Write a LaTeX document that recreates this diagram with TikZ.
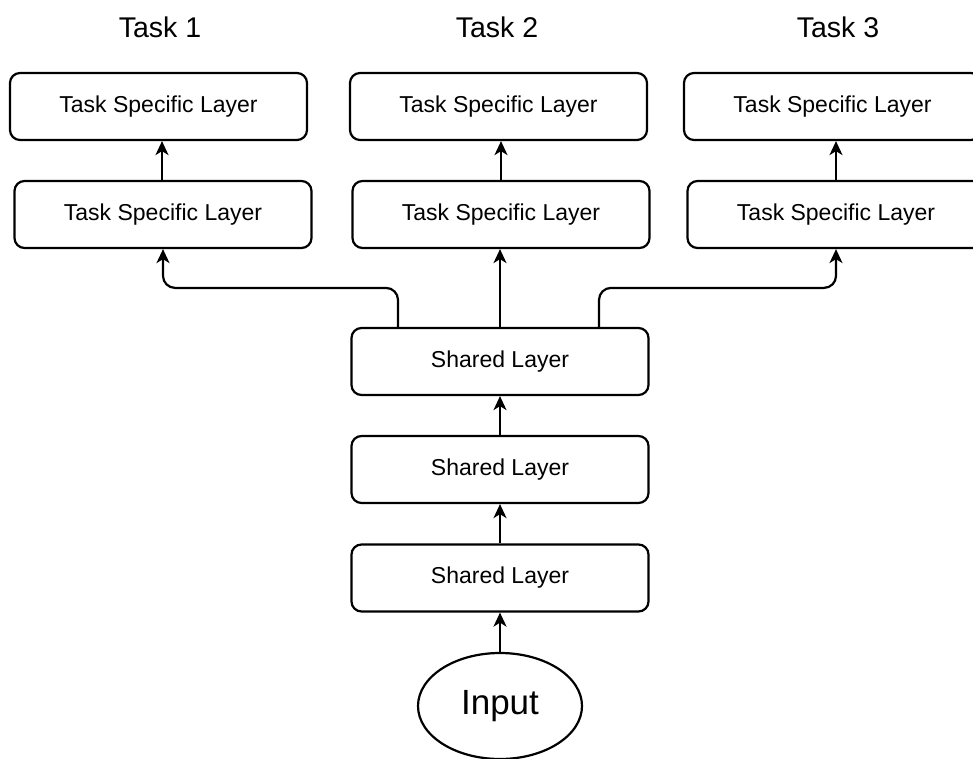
\documentclass[tikz,border=0pt]{standalone}
\usepackage{fontspec}
\setmainfont{Liberation Sans}
\usetikzlibrary{arrows.meta,shapes.geometric}
\begin{document}
\begin{tikzpicture}[x=1pt,y=-1pt,
  box/.style={draw, line width=2.2pt, rounded corners=10pt, minimum width=297pt, minimum height=67pt, inner sep=0pt, font=\fontsize{23}{27}\selectfont},
  tasklabel/.style={font=\fontsize{28.5}{33}\selectfont, inner sep=0pt},
  arr/.style={-{Stealth[length=14pt,width=13pt,inset=4pt]}, line width=2.2pt},
  inputnode/.style={draw, ellipse, line width=2.2pt, minimum width=164pt, minimum height=106pt, inner sep=0pt, font=\fontsize{35}{40}\selectfont}]
\useasboundingbox (0,0) rectangle (973,759);
\clip (0,0) rectangle (973,759);

\node[tasklabel] (l1) at (160,27) {Task 1};
\node[tasklabel] (l2) at (497,27) {Task 2};
\node[tasklabel] (l3) at (838,27) {Task 3};

\node[box] (t1a) at (158.5,106.5) {Task Specific Layer};
\node[box] (t1b) at (163,214.5) {Task Specific Layer};
\node[box] (t2a) at (498.5,106.5) {Task Specific Layer};
\node[box] (t2b) at (501,214.5) {Task Specific Layer};
\node[box] (t3a) at (832.5,106.5) {Task Specific Layer};
\node[box] (t3b) at (836,214.5) {Task Specific Layer};

\node[box] (s1) at (500,361.5) {Shared Layer};
\node[box] (s2) at (500,469.5) {Shared Layer};
\node[box] (s3) at (500,578) {Shared Layer};

\node[inputnode] (in) at (500,706) {Input};

\draw[arr] (in.north) -- (s3.south);
\draw[arr] (s3.north) -- (s2.south);
\draw[arr] (s2.north) -- (s1.south);
\draw[arr] (s1.north) -- (s1.north |- t2b.south);
\draw[arr, rounded corners=12pt] ([xshift=-102pt]s1.north) -- ++(0,-39) -| (t1b.south);
\draw[arr, rounded corners=12pt] ([xshift=99pt]s1.north) -- ++(0,-39) -| (t3b.south);

\draw[arr] ([xshift=-1pt]t1b.north) -- ([xshift=-1pt]t1b.north |- t1a.south);
\draw[arr] (t2b.north) -- (t2b.north |- t2a.south);
\draw[arr] (t3b.north) -- (t3b.north |- t3a.south);
\end{tikzpicture}
\end{document}
